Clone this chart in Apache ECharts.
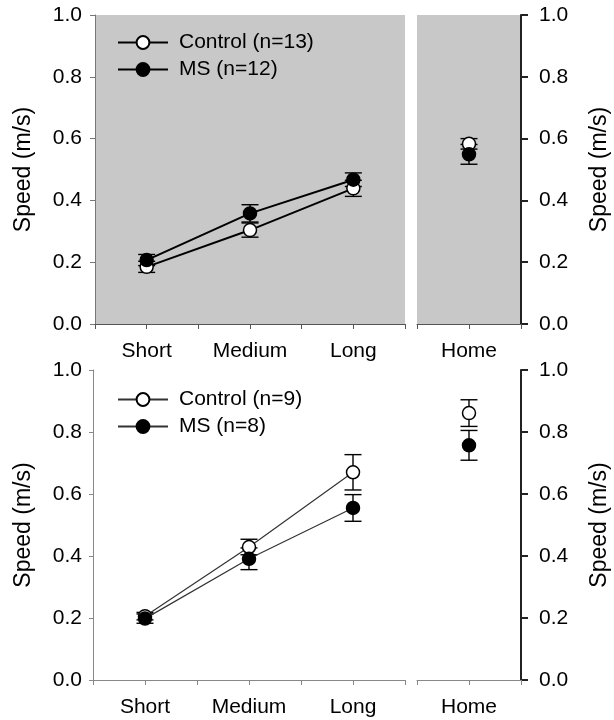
<!DOCTYPE html>
<html><head><meta charset="utf-8">
<script src="https://cdn.jsdelivr.net/npm/echarts@6/dist/echarts.min.js"></script>
<style>html,body{margin:0;padding:0;background:#fff}#c{width:614px;height:720px}</style>
</head><body><div id="c"></div>
<script>
// ---- data ----
const categories = ['Short', 'Medium', 'Long'];
const homeCategory = ['Home'];
const yTickLabels = ['0.0', '0.2', '0.4', '0.6', '0.8', '1.0'];
const topLegend = ['Control (n=13)', 'MS (n=12)'];
const bottomLegend = ['Control (n=9)', 'MS (n=8)'];

const topControl = [0.185, 0.304, 0.439];
const topControlErr = [0.018, 0.023, 0.026];
const topMS = [0.207, 0.358, 0.467];
const topMSErr = [0.018, 0.028, 0.022];
const topControlHome = [0.583];
const topControlHomeErr = [0.017];
const topMSHome = [0.549];
const topMSHomeErr = [0.032];

const botControl = [0.206, 0.429, 0.670];
const botControlErr = [0.012, 0.025, 0.057];
const botMS = [0.198, 0.391, 0.555];
const botMSErr = [0.015, 0.035, 0.043];
const botControlHome = [0.861];
const botControlHomeErr = [0.043];
const botMSHome = [0.757];
const botMSHomeErr = [0.048];

// ---- helpers ----
const FONT = "'Liberation Sans', Arial, sans-serif";
const pos = (i) => 2 * i + 1; // category slot on value axis
const pts = (vals) => vals.map((v, i) => [pos(i), v]);
const errs = (vals, e) => vals.map((v, i) => [pos(i), v, e[i]]);

function errorBar(params, api) {
  const x = api.value(0), y = api.value(1), e = api.value(2);
  const t = api.coord([x, y + e]);
  const b = api.coord([x, y - e]);
  const hw = 8.5;
  const style = { stroke: '#000', lineWidth: 1.4, fill: null };
  return { type: 'group', children: [
    { type: 'line', shape: { x1: t[0], y1: t[1], x2: b[0], y2: b[1] }, style },
    { type: 'line', shape: { x1: t[0] - hw, y1: t[1], x2: t[0] + hw, y2: t[1] }, style },
    { type: 'line', shape: { x1: b[0] - hw, y1: b[1], x2: b[0] + hw, y2: b[1] }, style }
  ]};
}

function xAxis(grid, max, labels, lineColor) {
  return {
    type: 'value', gridIndex: grid, min: 0, max: max, interval: 1,
    axisLine: { show: true, onZero: false, lineStyle: { color: lineColor, width: 1 } },
    axisTick: { show: true, inside: false, length: 5, lineStyle: { color: lineColor } },
    splitLine: { show: false },
    axisLabel: {
      show: true, margin: 17, fontSize: 21, color: '#000', fontFamily: FONT,
      showMinLabel: true, showMaxLabel: true,
      formatter: (v) => (Math.round(v) % 2 === 1 ? labels[(Math.round(v) - 1) / 2] : '')
    }
  };
}

function yAxis(grid, position, lineColor, lineWidth, tickLen, margin, nameGap) {
  return {
    type: 'value', gridIndex: grid, position: position, min: 0, max: 1, interval: 0.2,
    axisLine: { show: true, onZero: false, lineStyle: { color: lineColor, width: lineWidth } },
    axisTick: { show: true, inside: false, length: tickLen, lineStyle: { color: lineColor, width: lineWidth } },
    splitLine: { show: false },
    axisLabel: {
      margin: margin, fontSize: 21, color: '#000', fontFamily: FONT,
      formatter: (v) => yTickLabels[Math.round(v / 0.2)]
    },
    name: 'Speed (m/s)', nameLocation: 'middle', nameGap: nameGap,
    nameTextStyle: { fontSize: 23, color: '#000', fontFamily: FONT }
  };
}

function lineSeries(name, data, xi, filled, lw, lc) {
  return {
    type: 'line', name: name, data: data, xAxisIndex: xi, yAxisIndex: xi,
    symbol: 'circle', symbolSize: 13, showSymbol: true,
    lineStyle: { color: lc, width: lw },
    itemStyle: { color: filled ? '#000' : '#fff', borderColor: '#000', borderWidth: 1.5 },
    z: filled ? 4 : 3, animation: false, silent: true
  };
}
function errSeries(data, xi) {
  return {
    type: 'custom', data: data, xAxisIndex: xi, yAxisIndex: xi,
    encode: { x: 0, y: 1 }, renderItem: errorBar, z: 2, animation: false, silent: true
  };
}

const option = {
  backgroundColor: '#fff',
  animation: false,
  textStyle: { fontFamily: FONT },
  grid: [
    { left: 95, top: 15, width: 310, height: 309, show: true, backgroundColor: '#c8c8c8', borderWidth: 0 },
    { left: 417, top: 15, width: 104, height: 309, show: true, backgroundColor: '#c8c8c8', borderWidth: 0 },
    { left: 93, top: 370, width: 312, height: 310 },
    { left: 417, top: 370, width: 104, height: 310 }
  ],
  xAxis: [
    xAxis(0, 6, categories, '#555'),
    xAxis(1, 2, homeCategory, '#555'),
    xAxis(2, 6, categories, '#888'),
    xAxis(3, 2, homeCategory, '#888')
  ],
  yAxis: [
    yAxis(0, 'left', '#777', 1, 5, 13, 60),
    yAxis(1, 'right', '#222', 2, 7, 18, 67),
    yAxis(2, 'left', '#888', 1, 4, 11, 58),
    yAxis(3, 'right', '#222', 2, 7, 18, 67)
  ],
  legend: [
    { data: topLegend, orient: 'vertical', left: 117, top: 32, itemWidth: 50, itemHeight: 16, itemGap: 6, padding: 0,
      textStyle: { fontSize: 21, color: '#000', fontFamily: FONT, padding: [0, 0, 0, 6] }, selectedMode: false },
    { data: bottomLegend, orient: 'vertical', left: 117, top: 389, itemWidth: 50, itemHeight: 16, itemGap: 6, padding: 0,
      textStyle: { fontSize: 21, color: '#000', fontFamily: FONT, padding: [0, 0, 0, 6] }, selectedMode: false }
  ],
  series: [
    errSeries(errs(topControl, topControlErr), 0),
    errSeries(errs(topMS, topMSErr), 0),
    lineSeries(topLegend[0], pts(topControl), 0, false, 2, '#000'),
    lineSeries(topLegend[1], pts(topMS), 0, true, 2, '#000'),
    errSeries(errs(topControlHome, topControlHomeErr), 1),
    errSeries(errs(topMSHome, topMSHomeErr), 1),
    lineSeries(topLegend[0], pts(topControlHome), 1, false, 2, '#000'),
    lineSeries(topLegend[1], pts(topMSHome), 1, true, 2, '#000'),
    errSeries(errs(botControl, botControlErr), 2),
    errSeries(errs(botMS, botMSErr), 2),
    lineSeries(bottomLegend[0], pts(botControl), 2, false, 1.2, '#333'),
    lineSeries(bottomLegend[1], pts(botMS), 2, true, 1.2, '#333'),
    errSeries(errs(botControlHome, botControlHomeErr), 3),
    errSeries(errs(botMSHome, botMSHomeErr), 3),
    lineSeries(bottomLegend[0], pts(botControlHome), 3, false, 1.2, '#333'),
    lineSeries(bottomLegend[1], pts(botMSHome), 3, true, 1.2, '#333')
  ]
};
const chart = echarts.init(document.getElementById('c'), null, { renderer: 'canvas' });
chart.setOption(option);
</script>
</body></html>
